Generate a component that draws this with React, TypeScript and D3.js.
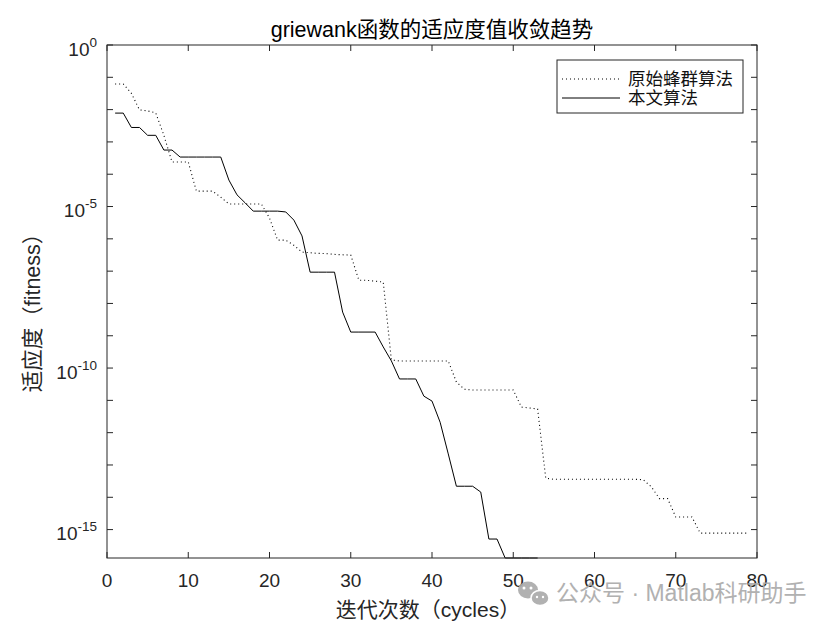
import React from "react";
import * as d3 from "d3";

const iterations = d3.range(1, 80);
const originalABC: number[] = [
  6.2e-2, 6.2e-2, 3.2e-2, 9.8e-3, 9.1e-3, 7.9e-3, 1.6e-3, 2.4e-4, 2.4e-4, 2.4e-4,
  3.0e-5, 3.0e-5, 3.0e-5, 1.95e-5, 1.2e-5, 1.2e-5, 1.2e-5, 1.2e-5, 1.2e-5, 4.4e-6,
  9.1e-7, 9.1e-7, 6.3e-7, 3.9e-7, 3.7e-7, 3.55e-7, 3.5e-7, 3.3e-7, 3.2e-7, 3.16e-7,
  5.2e-8, 5.2e-8, 4.9e-8, 4.6e-8, 1.78e-10, 1.66e-10, 1.66e-10, 1.66e-10, 1.66e-10, 1.66e-10,
  1.66e-10, 1.66e-10, 3.7e-11, 2.2e-11, 2.1e-11, 2.1e-11, 2.1e-11, 2.1e-11, 2.1e-11, 2.1e-11,
  6.2e-12, 5.8e-12, 5.4e-12, 3.9e-14, 3.6e-14, 3.6e-14, 3.6e-14, 3.6e-14, 3.6e-14, 3.6e-14,
  3.6e-14, 3.6e-14, 3.6e-14, 3.6e-14, 3.6e-14, 3.5e-14, 2.1e-14, 9.1e-15, 9.1e-15, 2.45e-15,
  2.45e-15, 2.45e-15, 7.8e-16, 7.8e-16, 7.8e-16, 7.8e-16, 7.8e-16, 7.8e-16, 7.8e-16,
];
const proposed: number[] = [
  7.8e-3, 7.8e-3, 2.8e-3, 2.8e-3, 1.6e-3, 1.6e-3, 5.6e-4, 5.6e-4, 3.4e-4, 3.4e-4,
  3.4e-4, 3.4e-4, 3.4e-4, 3.4e-4, 6.6e-5, 2.3e-5, 1.3e-5, 7.2e-6, 7.2e-6, 7.2e-6,
  7.2e-6, 6.8e-6, 3.8e-6, 1.23e-6, 9.3e-8, 9.3e-8, 9.3e-8, 9.3e-8, 5.4e-9, 1.3e-9,
  1.3e-9, 1.3e-9, 1.3e-9, 4.5e-10, 1.66e-10, 4.6e-11, 4.6e-11, 4.6e-11, 1.35e-11, 9.5e-12,
  2.1e-12, 2.2e-13, 2.2e-14, 2.2e-14, 2.2e-14, 1.45e-14, 5.1e-16, 5.1e-16, 1.32e-16, 1.32e-16,
  1.32e-16, 1.32e-16, 1.32e-16,
];
const seriesNames = ["原始蜂群算法", "本文算法"];
const xTicks = [0, 10, 20, 30, 40, 50, 60, 70, 80];
const yLabelExps = [0, -5, -10, -15];
const yMinorExps = d3.range(0, -16, -1);

const W = 836, H = 627;
const L = 107, R = 757, T = 45, B = 558;
const axisColor = "#262626";
const sans = "'Liberation Sans', Arial, 'Noto Sans CJK SC', sans-serif";

export default function App() {
  const x = d3.scaleLinear().domain([0, 80]).range([L, R]);
  const yMin = d3.min(proposed) as number;
  const y = d3.scaleLog().domain([yMin, 1]).range([B, T]);
  const line = d3
    .line<number>()
    .x((_, i) => x(i + 1))
    .y((d) => y(d));
  const tick = 6;

  return (
    <svg width={W} height={H} style={{ position: "absolute", left: 0, top: 0, background: "#fff" }}>
      <rect x={0} y={0} width={W} height={H} fill="#fff" />
      {/* title */}
      <text x={432} y={37} textAnchor="middle" fontFamily={sans} fontSize={21.5} fill="#000">
        griewank函数的适应度值收敛趋势
      </text>
      {/* data lines */}
      <path d={line(originalABC) || ""} fill="none" stroke="#000" strokeWidth={1.1} strokeDasharray="1,3" />
      <path d={line(proposed) || ""} fill="none" stroke="#000" strokeWidth={1} />
      {/* axes box */}
      <rect x={L} y={T} width={R - L} height={B - T} fill="none" stroke={axisColor} strokeWidth={1} />
      {xTicks.map((t) => (
        <g key={"xt" + t}>
          <line x1={x(t)} x2={x(t)} y1={B} y2={B - tick} stroke={axisColor} />
          <line x1={x(t)} x2={x(t)} y1={T} y2={T + tick} stroke={axisColor} />
          <text x={x(t)} y={587} textAnchor="middle" fontFamily={sans} fontSize={19} fill={axisColor}>
            {t}
          </text>
        </g>
      ))}
      {yMinorExps.map((e) => (
        <g key={"ym" + e}>
          <line x1={L} x2={L + tick} y1={y(Math.pow(10, e))} y2={y(Math.pow(10, e))} stroke={axisColor} />
          <line x1={R} x2={R - tick} y1={y(Math.pow(10, e))} y2={y(Math.pow(10, e))} stroke={axisColor} />
        </g>
      ))}
      {yLabelExps.map((e) => (
        <text
          key={"yl" + e}
          x={97}
          y={y(Math.pow(10, e)) + 10.5}
          textAnchor="end"
          fontFamily={sans}
          fontSize={19}
          fill={axisColor}
        >
          10
          <tspan dy={-9} fontSize={13.5}>
            {e}
          </tspan>
        </text>
      ))}
      {/* axis labels */}
      <text
        transform={`translate(40,${(T + B) / 2 + 6}) rotate(-90)`}
        textAnchor="middle"
        fontFamily={sans}
        fontSize={21.5}
        fill={axisColor}
      >
        适应度（fitness）
      </text>
      <text x={428} y={617} textAnchor="middle" fontFamily={sans} fontSize={21} fill={axisColor}>
        迭代次数（cycles）
      </text>
      {/* legend */}
      <rect x={557} y={60} width={186} height={53} fill="#fff" stroke={axisColor} strokeWidth={1} />
      <line x1={562} x2={620} y1={79} y2={79} stroke="#000" strokeWidth={1.1} strokeDasharray="1,3" />
      <line x1={562} x2={620} y1={98} y2={98} stroke="#000" strokeWidth={1} />
      <text x={628} y={85} fontFamily={sans} fontSize={17.5} fill="#111">
        {seriesNames[0]}
      </text>
      <text x={628} y={104} fontFamily={sans} fontSize={17.5} fill="#111">
        {seriesNames[1]}
      </text>
      {/* watermark */}
      <g fill="#a9a9a9" opacity={0.9}>
        <ellipse cx={528} cy={590} rx={10} ry={8.5} />
        <ellipse cx={540} cy={598} rx={9} ry={7.5} stroke="#fff" strokeWidth={1.5} />
        <circle cx={524} cy={588} r={1.5} fill="#fff" />
        <circle cx={531} cy={588} r={1.5} fill="#fff" />
        <circle cx={537} cy={597} r={1.2} fill="#fff" />
        <circle cx={543} cy={597} r={1.2} fill="#fff" />
      </g>
      <text x={556} y={601} fontFamily={sans} fontSize={23} fill="#a9a9a9" opacity={0.9}>
        公众号 · Matlab科研助手
      </text>
    </svg>
  );
}
